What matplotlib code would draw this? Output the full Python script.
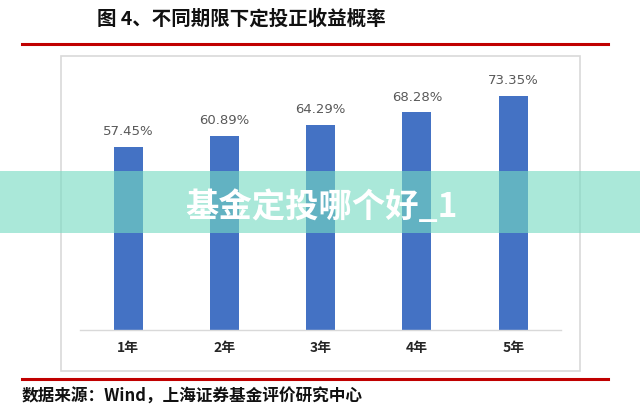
import numpy as np
import matplotlib
matplotlib.use("Agg")
import matplotlib.pyplot as plt
from matplotlib.patches import Rectangle

plt.rcParams['font.family'] = ['Noto Sans CJK SC', 'DejaVu Sans']

# 数据
periodos = ["1年", "2年", "3年", "4年", "5年"]
probabilidad = [57.45, 60.89, 64.29, 68.28, 73.35]

titulo = "图 4、不同期限下定投正收益概率"
fuente = "数据来源：Wind，上海证券基金评价研究中心"
banner = "基金定投哪个好_1"

fig = plt.figure(figsize=(6.4, 4.06), dpi=100)

# Marco gris del gráfico
fig.patches.append(Rectangle((0.095, 0.084), 0.811, 0.776, transform=fig.transFigure,
                             fill=False, edgecolor="#d9d9d9", linewidth=1.2, zorder=0))

ax = fig.add_axes([0.125, 0.185, 0.752, 0.628])
x = np.arange(len(periodos))
ax.bar(x, probabilidad, width=0.30, color="#4472c4", zorder=2)
for xi, v in zip(x, probabilidad):
    ax.annotate(f"{v:.2f}%", (xi, v), xytext=(0, 7), textcoords="offset points",
                ha="center", va="bottom", fontsize=9.5, color="#595959",
                family="DejaVu Sans")

ax.set_xlim(-0.5, 4.5)
ax.set_ylim(0, 80)
ax.set_yticks([])
ax.set_xticks(x)
ax.set_xticklabels(periodos, fontsize=10, fontweight="bold", color="#262626")
ax.tick_params(axis="x", length=0, pad=7)
for s in ["top", "right", "left"]:
    ax.spines[s].set_visible(False)
ax.spines["bottom"].set_color("#d9d9d9")
ax.spines["bottom"].set_linewidth(1.0)
ax.patch.set_alpha(0)

# Título y líneas rojas
fig.text(0.152, 0.953, titulo, fontsize=14, fontweight="bold", color="#111111",
         ha="left", va="center")
fig.add_artist(plt.Line2D([0.034, 0.95], [0.889, 0.889], color="#c00000", linewidth=2.2))
fig.add_artist(plt.Line2D([0.034, 0.95], [0.064, 0.064], color="#c00000", linewidth=2.2))
fig.text(0.034, 0.022, fuente, fontsize=12, fontweight="bold", color="#111111",
         ha="left", va="center")

# Banda translúcida
fig.patches.append(Rectangle((0, 0.424), 1, 0.153, transform=fig.transFigure,
                             facecolor="#76dbc2", alpha=0.62, edgecolor="none", zorder=5))
fig.text(0.503, 0.49, banner, fontsize=24, fontweight="bold", color="white",
         ha="center", va="center", zorder=6)

fig.savefig("out.png", dpi=100)
